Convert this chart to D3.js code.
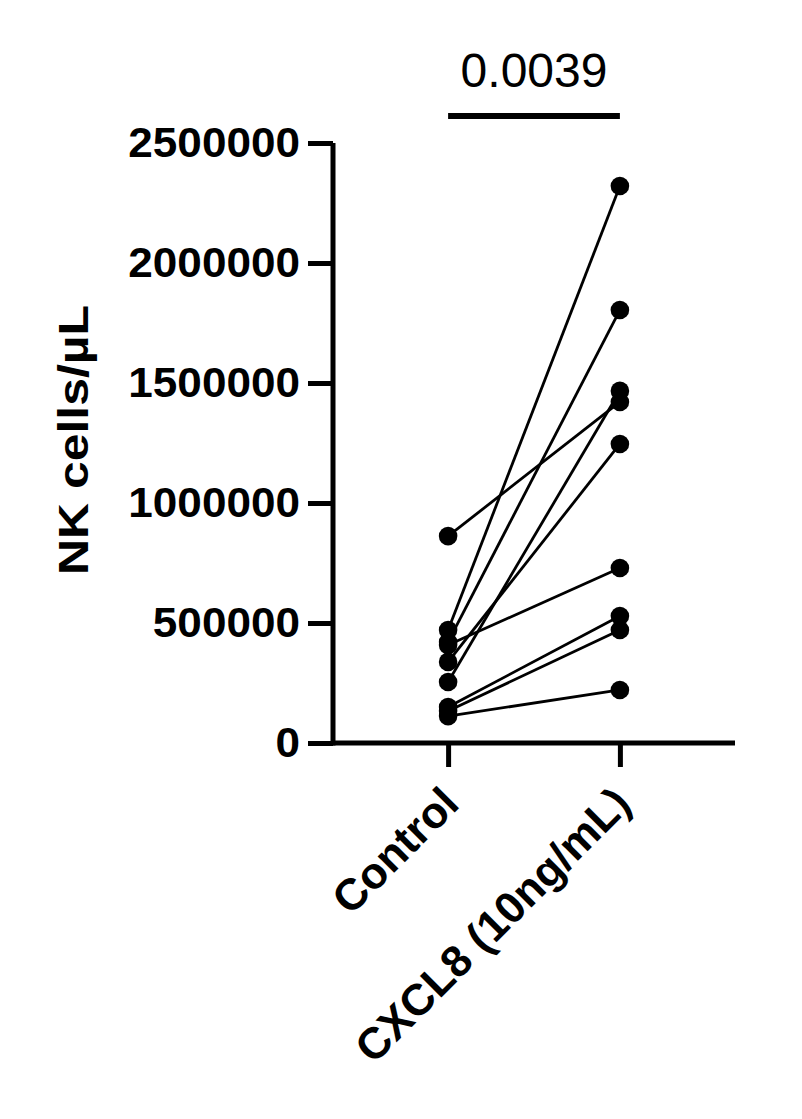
<!DOCTYPE html>
<html>
<head>
<meta charset="utf-8">
<script src="https://cdn.jsdelivr.net/npm/d3@7"></script>
<style>
  body { margin: 0; background: #fff; }
  svg { display: block; }
  text { font-family: "Liberation Sans", Arial, Helvetica, sans-serif; fill: #000; }
</style>
</head>
<body>
<div id="chart"></div>
<script>
// groups and paired values (NK cells/uL), one pair per donor
var groups = ["Control", "CXCL8 (10ng/mL)"];
var control = [862000, 471000, 421000, 408000, 338000, 254000, 150000, 133000, 112000];
var cxcl8   = [1421000, 2321000, 1804000, 729000, 1246000, 1467000, 529000, 471000, 221000];
var yTicks = [0, 500000, 1000000, 1500000, 2000000, 2500000];
var pLabel = "0.0039";

var width = 802, height = 1119;

var svg = d3.select("#chart").append("svg")
    .attr("width", width)
    .attr("height", height);

// scales
var x = d3.scalePoint().domain(groups).range([333, 735]).padding(0.67);
var y = d3.scaleLinear().domain([0, 2500000]).range([743, 143]);

var axisStroke = 5;

// y axis
var yAxis = d3.axisLeft(y)
    .tickValues(yTicks)
    .tickFormat(d3.format("d"))
    .tickSize(25)
    .tickSizeOuter(0)
    .tickPadding(8);

var gy = svg.append("g")
    .attr("transform", "translate(" + x.range()[0] + ",0)")
    .call(yAxis);
gy.select(".domain").attr("stroke", "#000").attr("stroke-width", axisStroke)
    .attr("d", "M0," + (y(0) + axisStroke / 2) + "V" + y(2500000));
gy.selectAll(".tick line").attr("stroke", "#000").attr("stroke-width", axisStroke);
gy.selectAll(".tick text")
    .attr("font-size", 42)
    .attr("font-weight", "bold")
    .attr("font-family", "Liberation Sans, Arial, sans-serif")
    .each(function() {
      var w = this.getComputedTextLength();
      d3.select(this).attr("textLength", w * 1.05).attr("lengthAdjust", "spacingAndGlyphs");
    });

// x axis
var xAxis = d3.axisBottom(x)
    .tickSize(24)
    .tickSizeOuter(0)
    .tickFormat("");

var gx = svg.append("g")
    .attr("transform", "translate(0," + y(0) + ")")
    .call(xAxis);
gx.select(".domain").attr("stroke", "#000").attr("stroke-width", axisStroke)
    .attr("d", "M" + x.range()[0] + ",0H" + x.range()[1]);
gx.selectAll(".tick line").attr("stroke", "#000").attr("stroke-width", axisStroke);

// rotated category labels
svg.append("g").selectAll("text")
  .data(groups)
  .enter().append("text")
    .attr("transform", function(d) { return "translate(" + (x(d) + 13) + "," + 806 + ") rotate(-45)"; })
    .attr("text-anchor", "end")
    .attr("font-size", 44)
    .attr("font-weight", "bold")
    .text(function(d) { return d; });

// y label
var yl = svg.append("text")
    .attr("transform", "translate(88," + ((y(0) + y(2500000)) / 2 - 3) + ") rotate(-90)")
    .attr("text-anchor", "middle")
    .attr("font-size", 42)
    .attr("font-weight", "bold")
    .text("NK cells/\u00b5L");
yl.attr("textLength", 270).attr("lengthAdjust", "spacingAndGlyphs");

// paired lines
var pairs = control.map(function(c, i) { return [c, cxcl8[i]]; });

var line = d3.line()
    .x(function(d, i) { return x(groups[i]); })
    .y(function(d) { return y(d); });

svg.append("g").selectAll("path")
  .data(pairs)
  .enter().append("path")
    .attr("d", line)
    .attr("fill", "none")
    .attr("stroke", "#000")
    .attr("stroke-width", 2.8);

// dots
var dots = [];
pairs.forEach(function(p) {
  dots.push({g: groups[0], v: p[0]});
  dots.push({g: groups[1], v: p[1]});
});

svg.append("g").selectAll("circle")
  .data(dots)
  .enter().append("circle")
    .attr("cx", function(d) { return x(d.g); })
    .attr("cy", function(d) { return y(d.v); })
    .attr("r", 9.3)
    .attr("fill", "#000");

// significance bar
svg.append("line")
    .attr("x1", x(groups[0]))
    .attr("x2", x(groups[1]))
    .attr("y1", 116)
    .attr("y2", 116)
    .attr("stroke", "#000")
    .attr("stroke-width", 6);

svg.append("text")
    .attr("x", (x(groups[0]) + x(groups[1])) / 2)
    .attr("y", 87)
    .attr("text-anchor", "middle")
    .attr("font-size", 48)
    .text(pLabel);
</script>
</body>
</html>
